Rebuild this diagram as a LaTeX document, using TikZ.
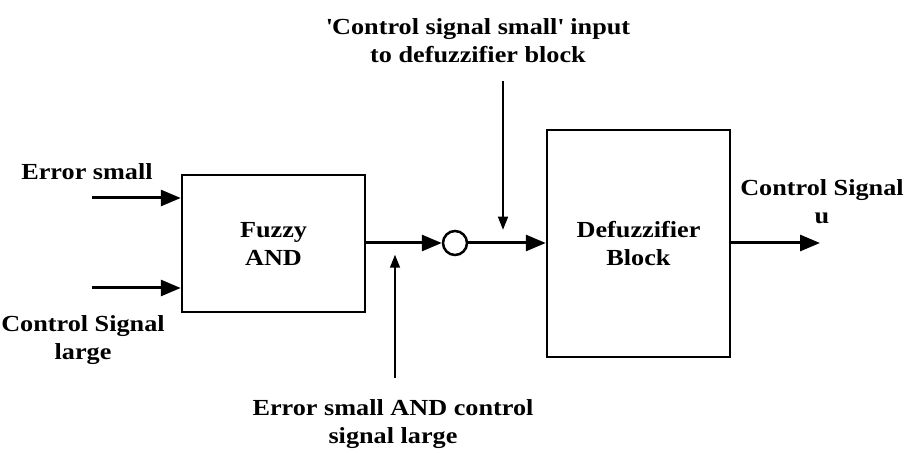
\documentclass[tikz,border=0pt]{standalone}
\usepackage{fontspec}
\setmainfont[FakeStretch=1.14]{Liberation Serif}
\usetikzlibrary{arrows.meta,positioning}
\tikzset{
  blockbox/.style={draw,line width=2.5pt,minimum width=183pt,align=center,
    font=\bfseries\fontsize{23}{28}\selectfont},
  lbl/.style={align=center,font=\bfseries\fontsize{23}{28}\selectfont},
  sig/.style={line width=3pt,-{Triangle[length=20pt,width=16pt]}},
  thinsig/.style={line width=1.5pt,-{Triangle[length=13pt,width=10pt]}}
}
\begin{document}
\begin{tikzpicture}[x=1pt,y=-1pt]
  \useasboundingbox (0,0) rectangle (911,454);
  % blocks
  \node[blockbox,minimum height=137pt] (fuzzy) at (273.5,243.5) {Fuzzy\\AND};
  \node[blockbox,minimum height=227pt] (defuzz) at (638.5,243.5) {Defuzzifier\\Block};
  \node[draw,circle,line width=2.5pt,minimum size=24pt,inner sep=0pt] (neg) at (455,243) {};
  % free ends
  \coordinate (inA) at (92,198);
  \coordinate (inB) at (92,288);
  \coordinate (ctop) at (503,81);
  \coordinate (ebot) at (395,378);
  \coordinate (uout) at (820,243);
  % signals
  \draw[sig] (inA) -- (inA -| fuzzy.west);
  \draw[sig] (inB) -- (inB -| fuzzy.west);
  \draw[sig] (fuzzy.east |- neg) -- (neg.west);
  \draw[sig] (neg.east) -- (defuzz.west |- neg);
  \draw[sig] (defuzz.east |- neg) -- (uout);
  \draw[thinsig] (ctop) -- (ctop |- neg.north);
  \draw[thinsig] (ebot) -- ([yshift=1.5pt]ebot |- neg.south);
  % labels
  \node[lbl] (errsmall) at (87,172) {Error small};
  \node[lbl] (cslarge) at (83,340) {Control Signal\\large};
  \node[lbl] (cssmall) at (478,41) {\textquotesingle Control signal small\textquotesingle{} input\\to defuzzifier block};
  \node[lbl] (andlbl) at (393,424) {Error small AND control\\signal large};
  \node[lbl] (ulbl) at (822,202) {Control Signal\\u};
\end{tikzpicture}
\end{document}
